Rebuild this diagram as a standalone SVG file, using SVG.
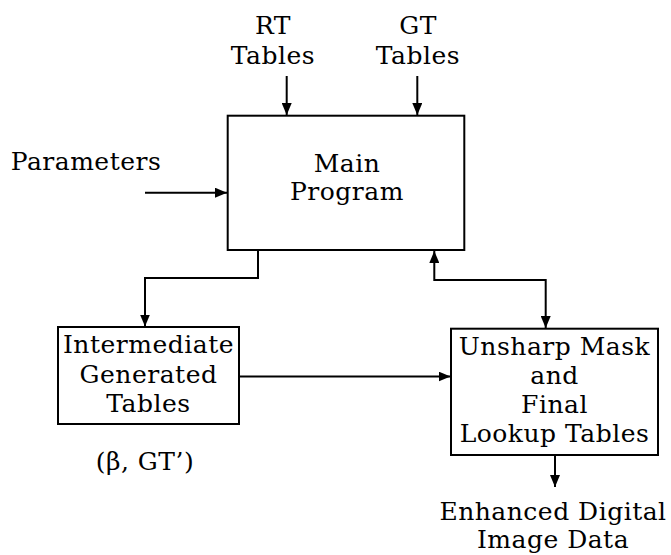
<svg xmlns="http://www.w3.org/2000/svg" width="671" height="555" viewBox="0 0 671 555">
  <style>
    .box { fill: #fff; stroke: #000; stroke-width: 2; }
    .wire { fill: none; stroke: #000; stroke-width: 2; }
    .lbl { font-family: "DejaVu Serif", "Liberation Serif", serif; font-size: 25px; letter-spacing: 0.5px; fill: #000; text-anchor: middle; }
  </style>
  <defs>
    <marker id="head" viewBox="0 0 12 10" refX="12" refY="5" markerWidth="12" markerHeight="10" markerUnits="userSpaceOnUse" orient="auto-start-reverse">
      <path d="M0,0 L12,5 L0,10 Z" fill="#000"/>
    </marker>
  </defs>
  <rect width="671" height="555" fill="#fff"/>

  <g id="connectors">
    <path class="wire" d="M286.7,76 V115" marker-end="url(#head)"/>
    <path class="wire" d="M417.3,76 V115" marker-end="url(#head)"/>
    <path class="wire" d="M145,192.7 H227" marker-end="url(#head)"/>
    <path class="wire" d="M258,250 V278 H145 V326.5" marker-end="url(#head)"/>
    <path class="wire" d="M434.3,251 V280 H545.7 V328" marker-start="url(#head)" marker-end="url(#head)"/>
    <path class="wire" d="M239,376.5 H450.5" marker-end="url(#head)"/>
    <path class="wire" d="M555,455 V487" marker-end="url(#head)"/>
  </g>

  <g id="rt-tables">
    <text class="lbl" x="273" y="33.5">RT</text>
    <text class="lbl" x="273" y="63.5">Tables</text>
  </g>
  <g id="gt-tables">
    <text class="lbl" x="418" y="33.5">GT</text>
    <text class="lbl" x="418" y="63.5">Tables</text>
  </g>
  <g id="parameters">
    <text class="lbl" x="86" y="169.5">Parameters</text>
  </g>
  <g id="main-program">
    <rect class="box" x="227.7" y="115.7" width="236.6" height="134.3"/>
    <text class="lbl" x="347" y="171.5">Main</text>
    <text class="lbl" x="347" y="199.5">Program</text>
  </g>
  <g id="intermediate-tables">
    <rect class="box" x="58" y="327" width="181" height="97"/>
    <text class="lbl" x="148.5" y="353">Intermediate</text>
    <text class="lbl" x="148.5" y="382.5">Generated</text>
    <text class="lbl" x="148.5" y="411.5">Tables</text>
  </g>
  <g id="beta-gt">
    <text class="lbl" x="145" y="470">(β, GT’)</text>
  </g>
  <g id="unsharp-mask">
    <rect class="box" x="451" y="328.7" width="207" height="126.3"/>
    <text class="lbl" x="554.5" y="355">Unsharp Mask</text>
    <text class="lbl" x="554.5" y="384">and</text>
    <text class="lbl" x="554.5" y="412.5">Final</text>
    <text class="lbl" x="554.5" y="441.5">Lookup Tables</text>
  </g>
  <g id="enhanced-data">
    <text class="lbl" x="553" y="520">Enhanced Digital</text>
    <text class="lbl" x="553" y="548">Image Data</text>
  </g>
</svg>
